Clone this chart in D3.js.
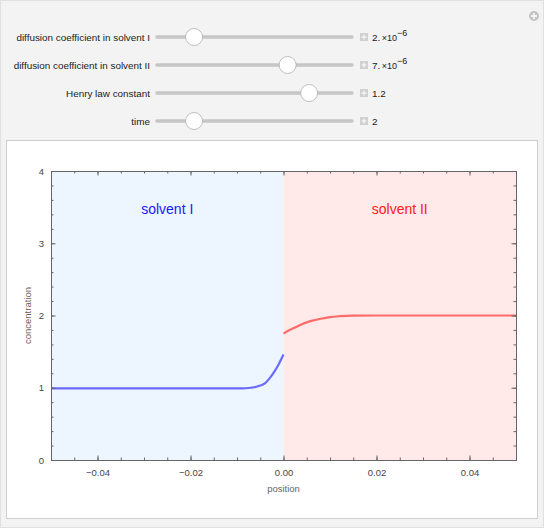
<!DOCTYPE html>
<html><head><meta charset="utf-8">
<script src="https://cdn.jsdelivr.net/npm/d3@7"></script>
<style>html,body{margin:0;padding:0;background:#f3f3f3;}svg{display:block;font-family:"Liberation Sans",Arial,sans-serif;}</style>
</head><body>
<svg id="c" width="544" height="528"></svg>
<script>
// ---- data ----
const sliderLabels = ["diffusion coefficient in solvent I", "diffusion coefficient in solvent II", "Henry law constant", "time"];
const sliderFractions = [0.19, 0.67, 0.78, 0.19];
const sliderValues = [["2.", "×10", "−6"], ["7.", "×10", "−6"], ["1.2", "", ""], ["2", "", ""]];
const regionLabels = ["solvent I", "solvent II"];
const bluePos = [-0.05, -0.04, -0.03, -0.02, -0.012, -0.009, -0.007, -0.006, -0.005, -0.004, -0.003, -0.002, -0.001, 0];
const blueConc = [0.99, 0.99, 0.99, 0.99, 0.99, 0.99, 1.0, 1.01, 1.03, 1.06, 1.13, 1.22, 1.33, 1.46];
const redPos = [0, 0.001, 0.002, 0.003, 0.004, 0.005, 0.006, 0.008, 0.010, 0.012, 0.015, 0.02, 0.03, 0.04, 0.05];
const redConc = [1.75, 1.79, 1.82, 1.85, 1.88, 1.905, 1.925, 1.955, 1.978, 1.99, 1.998, 2.0, 2.0, 2.0, 2.0];
const xMajor = [-0.04, -0.02, 0, 0.02, 0.04];
const yMajor = [0, 1, 2, 3, 4];

const svg = d3.select("#c");
// outer border
svg.append("rect").attr("x",0.5).attr("y",0.5).attr("width",543).attr("height",527).attr("fill","#f3f3f3").attr("stroke","#e0e0e0");
// top-right icon
const ic = svg.append("g").attr("transform","translate(534,16)");
ic.append("circle").attr("r",5).attr("fill","#c4c4c4");
ic.append("path").attr("d","M-3,0H3M0,-3V3").attr("stroke","#fff").attr("stroke-width",1.4);

// sliders
const rowY = [37, 65, 93, 121];
const trackX0 = 157, trackX1 = 352;
sliderLabels.forEach((lab, i) => {
  const y = rowY[i];
  svg.append("text").attr("x",150).attr("y",y+3.5).attr("text-anchor","end").attr("font-size",9.9).attr("fill","#222").text(lab);
  svg.append("line").attr("x1",trackX0).attr("x2",trackX1).attr("y1",y).attr("y2",y).attr("stroke","#c6c6c6").attr("stroke-width",3.5).attr("stroke-linecap","round");
  const tx = trackX0 + sliderFractions[i]*(trackX1-trackX0);
  svg.append("circle").attr("cx",tx).attr("cy",y).attr("r",8.5).attr("fill","#fff").attr("stroke","#b0b0b0").attr("stroke-width",0.8);
  svg.append("rect").attr("x",360).attr("y",y-4).attr("width",8).attr("height",8).attr("fill","#d0d0d0");
  svg.append("path").attr("d",`M${361.5},${y}H${366.5}M364,${y-2.5}V${y+2.5}`).attr("stroke","#fff").attr("stroke-width",1);
  const v = sliderValues[i];
  const t = svg.append("text").attr("x",372).attr("y",y+3.5).attr("font-size",9.9).attr("fill","#222");
  t.append("tspan").text(v[0]);
  if (v[1]) {
    t.append("tspan").attr("font-size",9).attr("dx",1.5).text(v[1]);
    t.append("tspan").attr("font-size",9).attr("dy",-5).text(v[2]);
  }
});

// plot panel
svg.append("rect").attr("x",6.5).attr("y",140.5).attr("width",531).attr("height",378).attr("fill","#fff").attr("stroke","#cfcfcf");

const L = 51, R = 516, T = 171, B = 460;
const x = d3.scaleLinear().domain([-0.05, 0.05]).range([L, R]);
const y = d3.scaleLinear().domain([0, 4]).range([B, T]);

svg.append("rect").attr("x",x(-0.05)).attr("y",T).attr("width",x(0)-x(-0.05)).attr("height",B-T).attr("fill","#edf5fe");
svg.append("rect").attr("x",x(0)).attr("y",T).attr("width",x(0.05)-x(0)).attr("height",B-T).attr("fill","#ffe9e9");

svg.append("text").attr("x",(x(-0.05)+x(0))/2).attr("y",214).attr("text-anchor","middle").attr("font-size",14).attr("fill","#1a1aff").text(regionLabels[0]);
svg.append("text").attr("x",(x(0)+x(0.05))/2).attr("y",214).attr("text-anchor","middle").attr("font-size",14).attr("fill","#ff1a1a").text(regionLabels[1]);

const line = d3.line().x(d => x(d[0])).y(d => y(d[1])).curve(d3.curveMonotoneX);
svg.append("path").datum(bluePos.map((p,i)=>[p, blueConc[i]])).attr("d",line).attr("fill","none").attr("stroke","#5c5cff").attr("stroke-opacity",0.9).attr("stroke-width",2.2);
svg.append("path").datum(redPos.map((p,i)=>[p, redConc[i]])).attr("d",line).attr("fill","none").attr("stroke","#ff5c5c").attr("stroke-opacity",0.9).attr("stroke-width",2.2);

// axes (frame)
const fmtX = d => d === 0 ? "0.00" : (d < 0 ? "\u2212" + d3.format(".2f")(-d) : d3.format(".2f")(d));
const xMinor = d3.range(-0.045, 0.0501, 0.005).map(v => +v.toFixed(3));
const yMinor = d3.range(0, 4.001, 0.2).map(v => +v.toFixed(2));
const axCol = "#666";
const gB = svg.append("g").attr("transform",`translate(0,${B})`)
  .call(d3.axisBottom(x).tickValues(xMinor).tickSize(-2.5).tickFormat(""));
const gB2 = svg.append("g").attr("transform",`translate(0,${B})`)
  .call(d3.axisBottom(x).tickValues(xMajor).tickSize(-4.5).tickPadding(9).tickFormat(fmtX));
const gT = svg.append("g").attr("transform",`translate(0,${T})`)
  .call(d3.axisTop(x).tickValues(xMinor).tickSize(-2.5).tickFormat(""));
const gT2 = svg.append("g").attr("transform",`translate(0,${T})`)
  .call(d3.axisTop(x).tickValues(xMajor).tickSize(-4.5).tickFormat(""));
const gL = svg.append("g").attr("transform",`translate(${L},0)`)
  .call(d3.axisLeft(y).tickValues(yMinor).tickSize(-2.5).tickFormat(""));
const gL2 = svg.append("g").attr("transform",`translate(${L},0)`)
  .call(d3.axisLeft(y).tickValues(yMajor).tickSize(-4.5).tickPadding(7).tickFormat(d3.format("d")));
const gR = svg.append("g").attr("transform",`translate(${R},0)`)
  .call(d3.axisRight(y).tickValues(yMinor).tickSize(-2.5).tickFormat(""));
const gR2 = svg.append("g").attr("transform",`translate(${R},0)`)
  .call(d3.axisRight(y).tickValues(yMajor).tickSize(-4.5).tickFormat(""));
[gB,gB2,gT,gT2,gL,gL2,gR,gR2].forEach(g => {
  g.selectAll(".domain").attr("stroke",axCol);
  g.selectAll(".tick line").attr("stroke",axCol);
  g.selectAll(".tick text").attr("fill","#444").attr("font-size",9.5).attr("font-family","\"Liberation Sans\",Arial,sans-serif");
});

svg.append("text").attr("x",x(0)).attr("y",492).attr("text-anchor","middle").attr("font-size",9.5).attr("fill","#666").text("position");
svg.append("text").attr("transform",`translate(31,${(T+B)/2}) rotate(-90)`).attr("text-anchor","middle").attr("font-size",9.5).attr("fill","#6e5a55").text("concentration");
</script>
</body></html>
